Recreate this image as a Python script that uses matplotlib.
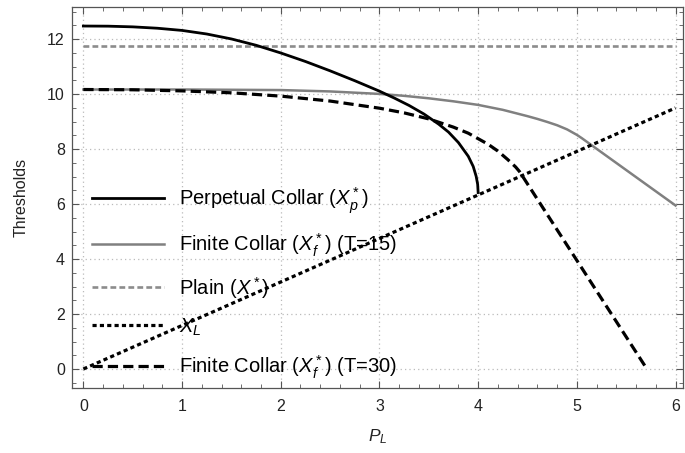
import numpy as np
import matplotlib.pyplot as plt
from matplotlib.ticker import MultipleLocator

plt.rcParams['font.family'] = ['Liberation Sans', 'DejaVu Sans']
plt.rcParams['mathtext.fontset'] = 'custom'
plt.rcParams['mathtext.rm'] = 'Liberation Sans'
plt.rcParams['mathtext.it'] = 'Liberation Sans:italic'

# perpetual collar threshold X_p*
perp_x = [0, 0.25, 0.5, 0.75, 1.0, 1.25, 1.5, 1.75, 2.0, 2.25, 2.5, 2.75, 3.0,
          3.15, 3.3, 3.45, 3.6, 3.7, 3.8, 3.9, 3.95, 3.98, 3.995, 4.0]
perp_y = [12.48, 12.475, 12.45, 12.4, 12.32, 12.19, 12.01, 11.78, 11.5, 11.19, 10.85, 10.49, 10.11,
          9.86, 9.59, 9.28, 8.91, 8.62, 8.24, 7.74, 7.37, 7.01, 6.72, 6.42]

# finite collar threshold, T=15
fin15_x = [0, 1.0, 1.5, 2.0, 2.5, 3.0, 3.25, 3.5, 3.75, 4.0, 4.25, 4.5, 4.6, 4.7,
           4.8, 4.9, 5.0, 5.05, 6.0]
fin15_y = [10.17, 10.17, 10.16, 10.15, 10.1, 10.01, 9.94, 9.85, 9.74, 9.61, 9.43, 9.2, 9.1, 8.99,
           8.87, 8.72, 8.52, 8.4, 5.95]

# finite collar threshold, T=30
fin30_x = [0, 0.5, 1.0, 1.5, 2.0, 2.5, 3.0, 3.25, 3.5, 3.75, 3.9, 4.0, 4.1,
           4.2, 4.3, 4.38, 4.42, 5.71]
fin30_y = [10.17, 10.16, 10.12, 10.05, 9.93, 9.75, 9.49, 9.32, 9.1, 8.8, 8.58, 8.38, 8.18,
           7.93, 7.62, 7.35, 7.18, 0.0]

# plain threshold and lower bound X_L
plain_level = 11.75
xl_x = [0, 6]
xl_y = [0, 9.5]

fig = plt.figure(figsize=(6.85, 4.53), dpi=100)
ax = fig.add_axes([0.1047, 0.1442, 0.8923, 0.8408])

ax.plot(perp_x, perp_y, color='black', lw=2.0, label=r'Perpetual Collar ($X_p^*$)', zorder=4)
ax.plot(fin15_x, fin15_y, color='#808080', lw=1.8, label=r'Finite Collar ($X_f^*$) (T=15)', zorder=3)
ax.plot([0, 6], [plain_level, plain_level], color='#8c8c8c', lw=1.9, ls=(0, (2.2, 1.2)),
        label=r'Plain ($X^*$)', zorder=3)
ax.plot(xl_x, xl_y, color='black', lw=2.3, ls=(0, (1.3, 1.0)), label=r'$X_L$', zorder=4)
ax.plot(fin30_x, fin30_y, color='black', lw=2.3, ls=(0, (3.2, 1.6)),
        label=r'Finite Collar ($X_f^*$) (T=30)', zorder=4)

ax.set_xlim(-0.118, 6.075)
ax.set_ylim(-0.68, 13.18)

ax.xaxis.set_major_locator(MultipleLocator(1))
ax.xaxis.set_minor_locator(MultipleLocator(0.2))
ax.yaxis.set_major_locator(MultipleLocator(2))
ax.yaxis.set_minor_locator(MultipleLocator(0.5))
ax.tick_params(which='both', direction='in', top=True, right=True, color='#555555',
               labelsize=11.5, labelcolor='#222222')
ax.tick_params(which='major', length=5, width=0.8)
ax.tick_params(which='minor', length=3, width=0.6)
ax.tick_params(axis='x', which='major', pad=8)
ax.tick_params(axis='y', which='major', pad=5)
for s in ax.spines.values():
    s.set_color('#555555')
    s.set_linewidth(0.9)

ax.grid(True, which='major', color='#bbbbbb', ls=(0, (1, 2.5)), lw=0.9)
ax.set_axisbelow(True)

ax.set_xlabel(r'$P_L$', fontsize=12.5, color='#222222', labelpad=10)
ax.set_ylabel('Thresholds', fontsize=11.5, color='#222222', labelpad=13)

ax.legend(loc='center left', bbox_to_anchor=(0.033, 0.275), frameon=False,
          fontsize=14.5, handlelength=3.6, handletextpad=0.72, labelspacing=0.78,
          borderpad=0, borderaxespad=0)

fig.savefig('out.png', dpi=100)
